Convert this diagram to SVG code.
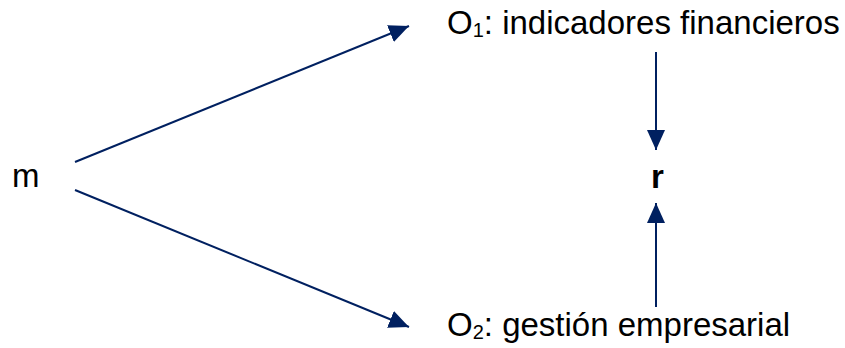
<svg xmlns="http://www.w3.org/2000/svg" width="845" height="348" viewBox="0 0 845 348">
<style>
text{font-family:"Liberation Sans",Arial,sans-serif;font-size:33px;fill:#000}
.sub{font-size:20px}
.c line{stroke:#002060;stroke-width:2;fill:none}
</style>
<defs>
<marker id="a" viewBox="0 0 20 18" refX="20" refY="9" markerWidth="20" markerHeight="18" markerUnits="userSpaceOnUse" orient="auto">
<path d="M0,0L20,9L0,18z" fill="#002060"/>
</marker>
</defs>
<rect width="845" height="348" fill="#fff"/>
<g class="c">
<line x1="75" y1="162" x2="409" y2="26" marker-end="url(#a)"/>
<line x1="75" y1="190" x2="409" y2="327" marker-end="url(#a)"/>
<line x1="656" y1="52" x2="656" y2="150" marker-end="url(#a)"/>
<line x1="656" y1="307" x2="656" y2="203" marker-end="url(#a)"/>
</g>
<g id="m"><text x="12" y="187">m</text></g>
<g id="r"><text x="651" y="188" font-weight="bold">r</text></g>
<g id="o1"><text x="447" y="34">O<tspan class="sub" dy="3">1</tspan><tspan dy="-3">: indicadores financieros</tspan></text></g>
<g id="o2"><text x="447" y="336">O<tspan class="sub" dy="3">2</tspan><tspan dy="-3">: gestión empresarial</tspan></text></g>
</svg>
